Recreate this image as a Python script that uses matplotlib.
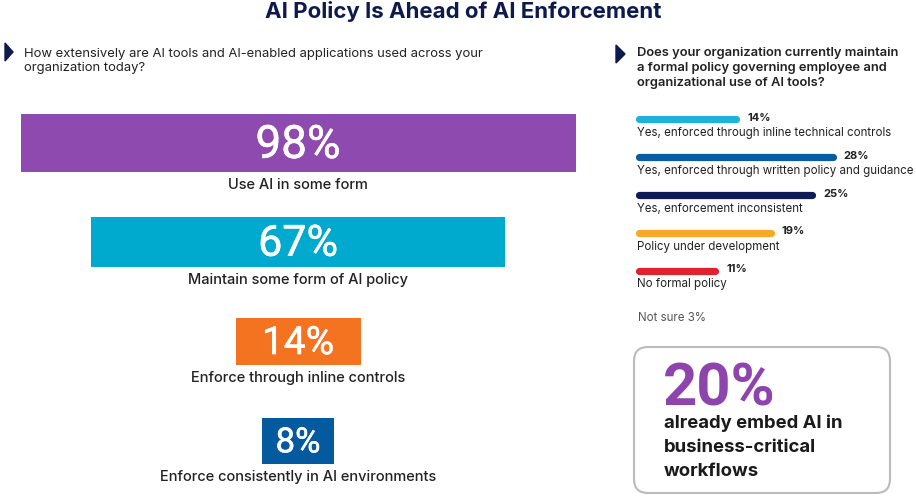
import matplotlib.pyplot as plt
import matplotlib.patheffects as pe
from matplotlib.patches import FancyBboxPatch, Polygon

plt.rcParams['font.family'] = ['Inter', 'DejaVu Sans']

# ==== Data ====
title = "AI Policy Is Ahead of AI Enforcement"

left_question = "How extensively are AI tools and AI-enabled applications used across your\norganization today?"
left_values = [98, 67, 14, 8]
left_labels = ["Use AI in some form", "Maintain some form of AI policy",
               "Enforce through inline controls", "Enforce consistently in AI environments"]

right_question = ("Does your organization currently maintain\n"
                  "a formal policy governing employee and\n"
                  "organizational use of AI tools?")
right_values = [14, 28, 25, 19, 11]
right_labels = ["Yes, enforced through inline technical controls",
                "Yes, enforced through written policy and guidance",
                "Yes, enforcement inconsistent",
                "Policy under development",
                "No formal policy"]
not_sure = 3

callout_value = 20
callout_text = "already embed AI in\nbusiness-critical\nworkflows"

# ==== Styles ====
left_colors = ["#8E4AAF", "#00A9CE", "#F47321", "#035A9E"]
left_box_w = [555, 414, 125, 72]        # display widths (px), boxes are not to scale
left_box_h = [0.58, 0.50, 0.47, 0.46]
left_font = [33, 31, 28, 25]
right_colors = ["#1DB3D6", "#0A5C9F", "#0E1B55", "#FAA922", "#E2222B"]
navy = "#0E1A4E"
dark = "#222222"
num_font = ['Roboto', 'DejaVu Sans']

W, H = 916, 500
fig = plt.figure(figsize=(W / 100, H / 100), dpi=100)

# overlay axes in pixel coordinates for titles and decorations
bg = fig.add_axes([0, 0, 1, 1])
bg.set_xlim(0, W)
bg.set_ylim(H, 0)
bg.axis('off')

bg.text(463, 12, title, ha='center', va='center', fontsize=16, fontweight='bold', color=navy)

bg.add_patch(Polygon([[5, 43], [13, 52], [5, 61]], closed=True, color=navy))
bg.text(24, 61, left_question, ha='left', va='center', fontsize=9.4, color=dark, linespacing=1.3)

bg.add_patch(Polygon([[616, 45], [625, 54], [616, 63]], closed=True, color=navy))
bg.text(637, 68, right_question, ha='left', va='center', fontsize=9.3, fontweight='semibold',
        color=dark, linespacing=1.35)

# ==== Left panel: stacked value boxes ====
axl = fig.add_axes([0, 1 - 490.5 / H, 596 / W, 397.2 / H])
axl.set_xlim(-298, 298)
axl.set_ylim(len(left_values) - 0.5, -0.5)
axl.axis('off')
ypos = list(range(len(left_values)))
lefts = [-w / 2 for w in left_box_w]
axl.barh(ypos, left_box_w, left=lefts, height=left_box_h, color=left_colors)
thicken = [pe.withStroke(linewidth=0.4, foreground='white')]
for i, v in enumerate(left_values):
    axl.text(0, i + 0.02, f"{v}%", ha='center', va='center', fontsize=left_font[i],
             family=num_font, color='white', path_effects=thicken)
    axl.text(0, i + left_box_h[i] / 2 + 0.13, left_labels[i], ha='center', va='center',
             fontsize=10.5, fontweight='medium', color=dark)

# ==== Right panel: thin rounded bars ====
px_per = 6.9
axr = fig.add_axes([636 / W, 1 - 327.5 / H, 280 / W, 227.1 / H])
axr.set_xlim(-0.5, -0.5 + 280 / px_per)
axr.set_ylim(5.5, -0.5)
axr.axis('off')
for i, v in enumerate(right_values):
    axr.plot([0, v], [i, i], color=right_colors[i], lw=5.2, solid_capstyle='round')
    axr.text(v + 1.6, i - 0.04, f"{v}%", ha='left', va='center', fontsize=8,
             fontweight='bold', color=dark)
    axr.text(-0.4, i + 0.36, right_labels[i], ha='left', va='center', fontsize=8.3, color=dark)
axr.text(-0.2, 5.26, f"Not sure {not_sure}%", ha='left', va='center', fontsize=8.3, color="#555555")

# ==== Callout box ====
box = FancyBboxPatch((634, 347), 256, 146, boxstyle="round,pad=0,rounding_size=14",
                     facecolor='white', edgecolor='#BBBBBB', lw=1.5)
bg.add_patch(box)
bg.text(663, 405, f"{callout_value}%", ha='left', va='baseline', fontsize=43,
        fontweight='bold', family=num_font, color="#8E44AD")
bg.text(664, 415, callout_text, ha='left', va='top', fontsize=13.3, fontweight='bold',
        color="#1A1A1A", linespacing=1.5)

fig.savefig("out.png", dpi=100)
